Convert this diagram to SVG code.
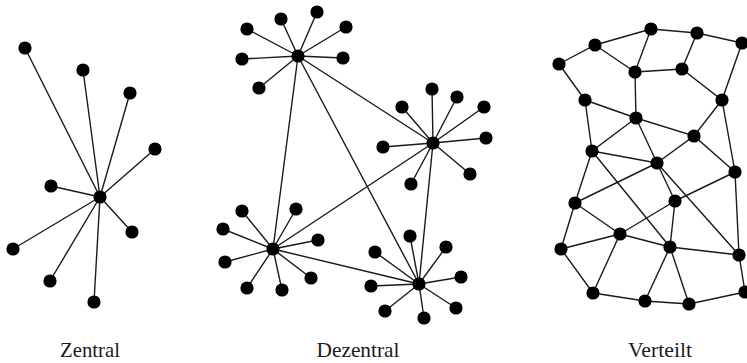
<svg xmlns="http://www.w3.org/2000/svg" width="747" height="363" viewBox="0 0 747 363">
<style>
.e{stroke:#1a1a1a;stroke-width:1.4;fill:none}
.n{fill:#000}
.t{font-family:"Liberation Serif","Times New Roman",serif;font-size:21px;fill:#1a1a1a;text-anchor:middle}
</style>
<defs><circle id="dot" r="6.6" class="n"/></defs>
<rect width="747" height="363" fill="#fff"/>
<g id="connectors" class="e">
<!-- Zentral -->
<path d="M100 197L25 48M100 197L83 70M100 197L130 93M100 197L155 149M100 197L51 186M100 197L132 232M100 197L13 249M100 197L50 281M100 197L94 302"/>
<!-- Dezentral hubs -->
<path d="M298 56L433 143M298 56L273 249M298 56L419 284M433 143L273 249M433 143L419 284M273 249L419 284"/>
<path d="M298 56L247 29M298 56L281 19M298 56L317 12M298 56L346 27M298 56L242 59M298 56L343 58M298 56L259 88"/>
<path d="M433 143L432 89M433 143L457 97M433 143L484 107M433 143L402 107M433 143L486 138M433 143L383 147M433 143L470 174M433 143L411 184"/>
<path d="M273 249L242 211M273 249L296 209M273 249L223 229M273 249L318 240M273 249L225 262M273 249L311 278M273 249L247 288M273 249L282 290"/>
<path d="M419 284L410 236M419 284L446 247M419 284L375 252M419 284L461 277M419 284L371 286M419 284L385 311M419 284L456 308M419 284L424 318"/>
<!-- Verteilt -->
<path d="M559 64L595 45L651 29L697 33L742 43M595 45L635 72L651 29M635 72L682 69L697 33M559 64L585 100M635 72L636 118M682 69L722 100L742 43M585 100L636 118L694 136L722 100L735 172M585 100L592 151L636 118L657 163L694 136L735 172M592 151L657 163M592 151L575 203M592 151L670 247M657 163L575 203M657 163L675 201M657 163L739 255M735 172L675 201M735 172L739 255M575 203L620 234M575 203L561 249M675 201L620 234M675 201L670 247M620 234L670 247M620 234L561 249M620 234L593 293M561 249L593 293M670 247L645 301M670 247L689 304M593 293L645 301L689 304L745 292M670 247L739 255L745 292"/>
</g>
<g id="zentral">
<g id="z0"><use href="#dot" x="100" y="197"/></g>
<g id="z1"><use href="#dot" x="25" y="48"/></g>
<g id="z2"><use href="#dot" x="83" y="70"/></g>
<g id="z3"><use href="#dot" x="130" y="93"/></g>
<g id="z4"><use href="#dot" x="155" y="149"/></g>
<g id="z5"><use href="#dot" x="51" y="186"/></g>
<g id="z6"><use href="#dot" x="132" y="232"/></g>
<g id="z7"><use href="#dot" x="13" y="249"/></g>
<g id="z8"><use href="#dot" x="50" y="281"/></g>
<g id="z9"><use href="#dot" x="94" y="302"/></g>
</g>
<g id="dezentral">
<g id="h1"><use href="#dot" x="298" y="56"/></g>
<g id="h1a"><use href="#dot" x="247" y="29"/></g>
<g id="h1b"><use href="#dot" x="281" y="19"/></g>
<g id="h1c"><use href="#dot" x="317" y="12"/></g>
<g id="h1d"><use href="#dot" x="346" y="27"/></g>
<g id="h1e"><use href="#dot" x="242" y="59"/></g>
<g id="h1f"><use href="#dot" x="343" y="58"/></g>
<g id="h1g"><use href="#dot" x="259" y="88"/></g>
<g id="h2"><use href="#dot" x="433" y="143"/></g>
<g id="h2a"><use href="#dot" x="432" y="89"/></g>
<g id="h2b"><use href="#dot" x="457" y="97"/></g>
<g id="h2c"><use href="#dot" x="484" y="107"/></g>
<g id="h2d"><use href="#dot" x="402" y="107"/></g>
<g id="h2e"><use href="#dot" x="486" y="138"/></g>
<g id="h2f"><use href="#dot" x="383" y="147"/></g>
<g id="h2g"><use href="#dot" x="470" y="174"/></g>
<g id="h2h"><use href="#dot" x="411" y="184"/></g>
<g id="h3"><use href="#dot" x="273" y="249"/></g>
<g id="h3a"><use href="#dot" x="242" y="211"/></g>
<g id="h3b"><use href="#dot" x="296" y="209"/></g>
<g id="h3c"><use href="#dot" x="223" y="229"/></g>
<g id="h3d"><use href="#dot" x="318" y="240"/></g>
<g id="h3e"><use href="#dot" x="225" y="262"/></g>
<g id="h3f"><use href="#dot" x="311" y="278"/></g>
<g id="h3g"><use href="#dot" x="247" y="288"/></g>
<g id="h3h"><use href="#dot" x="282" y="290"/></g>
<g id="h4"><use href="#dot" x="419" y="284"/></g>
<g id="h4a"><use href="#dot" x="410" y="236"/></g>
<g id="h4b"><use href="#dot" x="446" y="247"/></g>
<g id="h4c"><use href="#dot" x="375" y="252"/></g>
<g id="h4d"><use href="#dot" x="461" y="277"/></g>
<g id="h4e"><use href="#dot" x="371" y="286"/></g>
<g id="h4f"><use href="#dot" x="385" y="311"/></g>
<g id="h4g"><use href="#dot" x="456" y="308"/></g>
<g id="h4h"><use href="#dot" x="424" y="318"/></g>
</g>
<g id="verteilt">
<g id="vA"><use href="#dot" x="559" y="64"/></g>
<g id="vB"><use href="#dot" x="595" y="45"/></g>
<g id="vC"><use href="#dot" x="651" y="29"/></g>
<g id="vD"><use href="#dot" x="697" y="33"/></g>
<g id="vE"><use href="#dot" x="742" y="43"/></g>
<g id="vF"><use href="#dot" x="635" y="72"/></g>
<g id="vG"><use href="#dot" x="682" y="69"/></g>
<g id="vH"><use href="#dot" x="585" y="100"/></g>
<g id="vI"><use href="#dot" x="722" y="100"/></g>
<g id="vJ"><use href="#dot" x="636" y="118"/></g>
<g id="vK"><use href="#dot" x="694" y="136"/></g>
<g id="vL"><use href="#dot" x="592" y="151"/></g>
<g id="vM"><use href="#dot" x="657" y="163"/></g>
<g id="vN"><use href="#dot" x="735" y="172"/></g>
<g id="vO"><use href="#dot" x="575" y="203"/></g>
<g id="vP"><use href="#dot" x="675" y="201"/></g>
<g id="vQ"><use href="#dot" x="620" y="234"/></g>
<g id="vR"><use href="#dot" x="670" y="247"/></g>
<g id="vS"><use href="#dot" x="561" y="249"/></g>
<g id="vT"><use href="#dot" x="739" y="255"/></g>
<g id="vU"><use href="#dot" x="593" y="293"/></g>
<g id="vV"><use href="#dot" x="645" y="301"/></g>
<g id="vW"><use href="#dot" x="689" y="304"/></g>
<g id="vX"><use href="#dot" x="745" y="292"/></g>
</g>
<g id="labels">
<text class="t" x="90" y="357" textLength="60" lengthAdjust="spacingAndGlyphs">Zentral</text>
<text class="t" x="358" y="357" textLength="83" lengthAdjust="spacingAndGlyphs">Dezentral</text>
<text class="t" x="660" y="357" textLength="64" lengthAdjust="spacingAndGlyphs">Verteilt</text>
</g>
</svg>
